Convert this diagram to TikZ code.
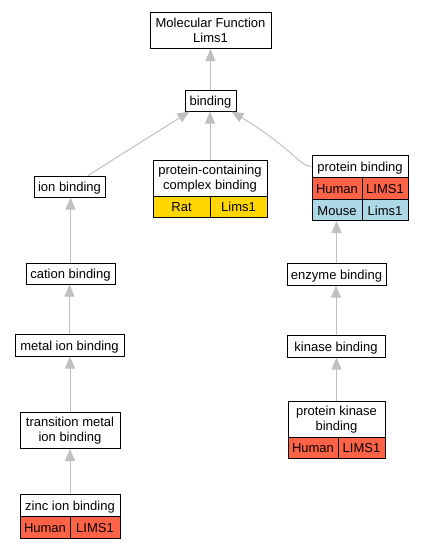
\documentclass[tikz,border=0pt]{standalone}
\usepackage{fontspec}
\setmainfont{Liberation Sans}
\usetikzlibrary{arrows.meta,calc}
\definecolor{hred}{HTML}{FF6347}
\definecolor{rgold}{HTML}{FFD700}
\definecolor{mblue}{HTML}{ADD8E6}
\definecolor{edgegray}{HTML}{C0C0C0}
\begin{document}
\begin{tikzpicture}[x=1pt,y=-1pt,
  box/.style={draw=black, line width=1pt, fill=white, inner sep=0pt, align=center,
    font=\fontsize{13}{15}\selectfont},
  one/.style={box, text height=10.5pt, text depth=0pt},
  redc/.style={fill=hred},
  goldc/.style={fill=rgold},
  bluec/.style={fill=mblue},
  edge/.style={draw=edgegray, line width=1pt, -{Triangle[length=12pt,width=10pt,fill=edgegray]}}]
\useasboundingbox (0,0) rectangle (424,549);
% nodes
\node[box, minimum width=121, minimum height=36] (mf) at (210.5,30.5) {Molecular Function\\Lims1};
\node[one, minimum width=51, minimum height=21] (bind) at (210.5,100.5) {binding};
\node[one, minimum width=71, minimum height=21] (ion) at (69.5,186.5) {ion binding};
% protein-containing complex binding
\node[box, minimum width=114, minimum height=36] (pcc) at (210,178.5) {protein-containing\\complex binding};
\node[one, goldc, minimum width=57, minimum height=21] (pccr) at (181.5,206.5) {Rat};
\node[one, goldc, minimum width=57, minimum height=21] (pccl) at (238.5,206.5) {Lims1};
% protein binding
\node[one, minimum width=96, minimum height=22] (pb) at (360,166.5) {protein binding};
\node[one, redc, minimum width=50, minimum height=22] (pbh) at (337,188.5) {Human};
\node[one, redc, minimum width=46, minimum height=22] (pbhl) at (385,188.5) {LIMS1};
\node[one, bluec, minimum width=50, minimum height=21] (pbm) at (337,210) {Mouse};
\node[one, bluec, minimum width=46, minimum height=21] (pbml) at (385,210) {Lims1};
% left chain
\node[one, minimum width=89, minimum height=21] (cation) at (70.5,273.5) {cation binding};
\node[one, minimum width=109, minimum height=22] (metal) at (69.5,345) {metal ion binding};
\node[box, minimum width=100, minimum height=36] (trans) at (70,430.5) {transition metal\\ion binding};
\node[one, minimum width=100, minimum height=22] (zinc) at (70,505) {zinc ion binding};
\node[one, redc, minimum width=50, minimum height=22] (zinch) at (45,527) {Human};
\node[one, redc, minimum width=50, minimum height=22] (zincl) at (95,527) {LIMS1};
% right chain
\node[one, minimum width=99, minimum height=22] (enzyme) at (336.5,274) {enzyme binding};
\node[one, minimum width=98, minimum height=22] (kinase) at (336,346) {kinase binding};
\node[box, minimum width=97, minimum height=36] (pk) at (336.5,419.5) {protein kinase\\binding};
\node[one, redc, minimum width=50, minimum height=21] (pkh) at (313,447.5) {Human};
\node[one, redc, minimum width=47, minimum height=21] (pkl) at (361.5,447.5) {LIMS1};
% edges
\draw[edge] (bind.north) -- (mf.south);
\draw[edge] ($(ion.north)+(18.5,0)$) -- ($(bind.south)+(-21,0)$);
\draw[edge] (pcc.north) -- (pcc.north |- bind.south);
\draw[edge] (pb.west) .. controls +(-12,0) and +(60,36) .. ($(bind.south)+(21,0)$);
\draw[edge] (cation.north) -- (cation.north |- ion.south);
\draw[edge] (metal.north) -- (metal.north |- cation.south);
\draw[edge] (trans.north) -- (trans.north |- metal.south);
\draw[edge] (zinc.north) -- (trans.south);
\draw[edge] (enzyme.north) -- (enzyme.north |- pbm.south);
\draw[edge] (kinase.north) -- (kinase.north |- enzyme.south);
\draw[edge] (pk.north) -- (pk.north |- kinase.south);
\end{tikzpicture}
\end{document}
